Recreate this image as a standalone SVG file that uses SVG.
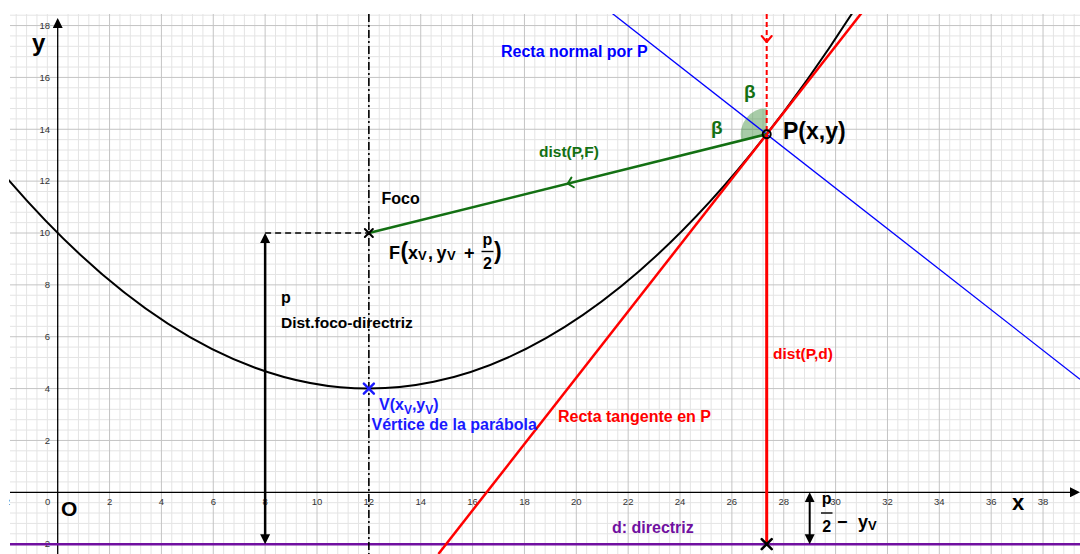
<svg xmlns="http://www.w3.org/2000/svg" width="1080" height="554" viewBox="0 0 1080 554">
<style>
.minor{stroke:#e4e4e4;stroke-width:1;fill:none}
.major{stroke:#c4c4c4;stroke-width:1;fill:none}
.tick{font-family:"Liberation Sans",Arial,sans-serif;font-size:9.5px;fill:#333}
.tx{font-family:"Liberation Sans",Arial,sans-serif;font-size:9.5px;fill:#333;text-anchor:middle}
.lb{font-family:"Liberation Sans",Arial,sans-serif;font-weight:bold}
.chev{fill:none;stroke-width:2;stroke-linecap:round;stroke-linejoin:round}
.xm{fill:none;stroke-linecap:round}
</style>
<defs>
<clipPath id="plot"><rect x="9" y="14" width="1071" height="540"/></clipPath>
<marker id="ahB" viewBox="0 0 10 10" refX="2" refY="5" markerWidth="10" markerHeight="11" markerUnits="userSpaceOnUse" orient="auto-start-reverse"><path d="M0,0 L10,5 L0,10 z" fill="#000"/></marker>
<marker id="ahAx" viewBox="0 0 10 10" refX="0" refY="5" markerWidth="10" markerHeight="10" markerUnits="userSpaceOnUse" orient="auto"><path d="M0,0 L10,5 L0,10 z" fill="#000"/></marker>
</defs>
<rect width="1080" height="554" fill="#fff"/>
<g clip-path="url(#plot)">
<g id="grid">
<path class="minor" d="M16.21 14V554M26.58 14V554M36.96 14V554M47.33 14V554M68.07 14V554M78.44 14V554M88.82 14V554M99.19 14V554M119.93 14V554M130.3 14V554M140.68 14V554M151.05 14V554M171.79 14V554M182.16 14V554M192.54 14V554M202.91 14V554M223.65 14V554M234.02 14V554M244.4 14V554M254.77 14V554M275.51 14V554M285.88 14V554M296.26 14V554M306.63 14V554M327.37 14V554M337.74 14V554M348.12 14V554M358.49 14V554M379.23 14V554M389.6 14V554M399.98 14V554M410.35 14V554M431.09 14V554M441.46 14V554M451.84 14V554M462.21 14V554M482.95 14V554M493.32 14V554M503.7 14V554M514.07 14V554M534.81 14V554M545.18 14V554M555.56 14V554M565.93 14V554M586.67 14V554M597.04 14V554M607.42 14V554M617.79 14V554M638.53 14V554M648.9 14V554M659.28 14V554M669.65 14V554M690.39 14V554M700.76 14V554M711.14 14V554M721.51 14V554M742.25 14V554M752.62 14V554M763 14V554M773.37 14V554M794.11 14V554M804.48 14V554M814.86 14V554M825.23 14V554M845.97 14V554M856.34 14V554M866.72 14V554M877.09 14V554M897.83 14V554M908.2 14V554M918.58 14V554M928.95 14V554M949.69 14V554M960.06 14V554M970.44 14V554M980.81 14V554M1001.55 14V554M1011.92 14V554M1022.3 14V554M1032.67 14V554M1053.41 14V554M1063.78 14V554M1074.16 14V554
M10 533.79H1080M10 523.42H1080M10 513.04H1080M10 502.67H1080M10 481.93H1080M10 471.56H1080M10 461.18H1080M10 450.81H1080M10 430.07H1080M10 419.7H1080M10 409.32H1080M10 398.95H1080M10 378.21H1080M10 367.84H1080M10 357.46H1080M10 347.09H1080M10 326.35H1080M10 315.98H1080M10 305.6H1080M10 295.23H1080M10 274.49H1080M10 264.12H1080M10 253.74H1080M10 243.37H1080M10 222.63H1080M10 212.26H1080M10 201.88H1080M10 191.51H1080M10 170.77H1080M10 160.4H1080M10 150.02H1080M10 139.65H1080M10 118.91H1080M10 108.54H1080M10 98.16H1080M10 87.79H1080M10 67.05H1080M10 56.68H1080M10 46.3H1080M10 35.93H1080M10 15.19H1080"/>
<path class="major" d="M109.56 14V554M161.42 14V554M213.28 14V554M265.14 14V554M317 14V554M368.86 14V554M420.72 14V554M472.58 14V554M524.44 14V554M576.3 14V554M628.16 14V554M680.02 14V554M731.88 14V554M783.74 14V554M835.6 14V554M887.46 14V554M939.32 14V554M991.18 14V554M1043.04 14V554
M10 440.44H1080M10 388.58H1080M10 336.72H1080M10 284.86H1080M10 233H1080M10 181.14H1080M10 129.28H1080M10 77.42H1080M10 25.56H1080"/>
</g>
<g id="ticks">
<text class="tx" x="5.84" y="505">-2</text>
<text class="tx" x="47.7" y="505">0</text>
<text class="tx" x="109.56" y="505">2</text>
<text class="tx" x="161.42" y="505">4</text>
<text class="tx" x="213.28" y="505">6</text>
<text class="tx" x="265.14" y="505">8</text>
<text class="tx" x="317" y="505">10</text>
<text class="tx" x="368.86" y="505">12</text>
<text class="tx" x="420.72" y="505">14</text>
<text class="tx" x="472.58" y="505">16</text>
<text class="tx" x="524.44" y="505">18</text>
<text class="tx" x="576.3" y="505">20</text>
<text class="tx" x="628.16" y="505">22</text>
<text class="tx" x="680.02" y="505">24</text>
<text class="tx" x="731.88" y="505">26</text>
<text class="tx" x="783.74" y="505">28</text>
<text class="tx" x="835.6" y="505">30</text>
<text class="tx" x="887.46" y="505">32</text>
<text class="tx" x="939.32" y="505">34</text>
<text class="tx" x="991.18" y="505">36</text>
<text class="tx" x="1043.04" y="505">38</text>
<g text-anchor="end">
<text class="tick" x="50" y="28.8">18</text>
<text class="tick" x="50" y="80.6">16</text>
<text class="tick" x="50" y="132.5">14</text>
<text class="tick" x="50" y="184.3">12</text>
<text class="tick" x="50" y="236.2">10</text>
<text class="tick" x="50" y="288.1">8</text>
<text class="tick" x="50" y="339.9">6</text>
<text class="tick" x="50" y="391.8">4</text>
<text class="tick" x="50" y="443.6">2</text>
<text class="tick" x="50" y="547.4">-2</text>
</g>
</g>
<g id="axes" stroke="#000" stroke-width="1.3" fill="none">
<line x1="10" y1="492.3" x2="1070" y2="492.3" marker-end="url(#ahAx)"/>
<line x1="57.7" y1="554" x2="57.7" y2="28" marker-end="url(#ahAx)"/>
</g>
<g id="connectors">
<path id="parabola" d="M5.84,176.82 Q433.69,675.97 861.53,-1.45" fill="none" stroke="#000" stroke-width="2"/>
<line id="directriz" x1="10" y1="544.16" x2="1080" y2="544.16" stroke="#7010a0" stroke-width="2.5"/>
<line id="eje" x1="368.86" y1="14" x2="368.86" y2="554" stroke="#000" stroke-width="1.6" stroke-dasharray="8,3,2,3"/>
<line id="aux-foco" x1="265.14" y1="233" x2="368.86" y2="233" stroke="#000" stroke-width="1.6" stroke-dasharray="6,4"/>
<line id="arrow-p" x1="265.14" y1="241" x2="265.14" y2="536.2" stroke="#000" stroke-width="2.5" marker-start="url(#ahB)" marker-end="url(#ahB)"/>
<line id="arrow-p2" x1="809.7" y1="500.3" x2="809.7" y2="536.2" stroke="#000" stroke-width="2" marker-start="url(#ahB)" marker-end="url(#ahB)"/>
<path id="sector-beta" d="M766.7,134.23 L766.7,108.23 A26,26 0 0 0 741.46,140.5 Z" fill="#1b7a1b" fill-opacity="0.38"/>
<line id="normal" x1="607.86" y1="10" x2="1080" y2="379.27" stroke="#0000ff" stroke-width="1.3"/>
<line id="tangente" x1="438.4" y1="554" x2="863.9" y2="10" stroke="#ff0000" stroke-width="2.5"/>
<line id="rayo" x1="766.7" y1="14" x2="766.7" y2="134.23" stroke="#ff0000" stroke-width="2" stroke-dasharray="5,3"/>
<path class="chev" stroke="#ff0000" d="M761.7,36 L766.7,42 L771.7,36"/>
<line id="dist-PF" x1="766.7" y1="134.23" x2="368.86" y2="233" stroke="#137013" stroke-width="2.5"/>
<path class="chev" stroke="#137013" d="M571.45,177.55 L567.8,183.6 L573.85,187.25"/>
<line id="dist-Pd" x1="766.7" y1="134.23" x2="766.7" y2="544.16" stroke="#ff0000" stroke-width="3"/>
</g>
</g>
<g id="node-F">
<path class="xm" stroke="#000" stroke-width="2" d="M364.86,229 L372.86,237 M364.86,237 L372.86,229"/>
<text class="lb" x="381.5" y="204" font-size="16" fill="#000">Foco</text>
<text class="lb" fill="#000" font-size="18" y="258.5"><tspan x="389">F</tspan><tspan x="400.5" font-size="23">(</tspan><tspan x="408">x</tspan><tspan x="418" font-size="13" dy="1.5">V</tspan><tspan x="428" dy="-1.5">,</tspan><tspan x="436.5">y</tspan><tspan x="447" font-size="13" dy="1.5">V</tspan><tspan x="464" dy="-1.5">+</tspan><tspan x="494" font-size="23">)</tspan></text>
<text class="lb" fill="#000" font-size="16" text-anchor="middle" x="487.5" y="244.5">p</text>
<line x1="481.5" y1="251.5" x2="493.5" y2="251.5" stroke="#000" stroke-width="1.4"/>
<text class="lb" fill="#000" font-size="16" text-anchor="middle" x="487.5" y="269">2</text>
</g>
<g id="node-V">
<path class="xm" stroke="#1a1aff" stroke-width="2.5" d="M363.86,383.58 L373.86,393.58 M363.86,393.58 L373.86,383.58"/>
<text class="lb" fill="#1a1aff" font-size="16" y="410"><tspan x="379">V(x</tspan><tspan font-size="12" dy="4">V</tspan><tspan dy="-4">,y</tspan><tspan font-size="12" dy="4">V</tspan><tspan dy="-4">)</tspan></text>
<text class="lb" fill="#1a1aff" font-size="16" x="371.5" y="429.5">Vértice de la parábola</text>
</g>
<g id="node-P">
<circle cx="766.7" cy="134.23" r="4" fill="none" stroke="#000" stroke-width="2"/>
<text class="lb" fill="#000" font-size="23" x="783" y="138.5">P(x,y)</text>
<text class="lb" fill="#137013" font-size="19" x="744" y="98">β</text>
<text class="lb" fill="#137013" font-size="19" x="711" y="134">β</text>
</g>
<g id="node-d">
<path class="xm" stroke="#000" stroke-width="2.5" d="M761.7,539.16 L771.7,549.16 M761.7,549.16 L771.7,539.16"/>
<text class="lb" fill="#7010a0" font-size="16" x="612" y="533">d: directriz</text>
<text class="lb" fill="#000" font-size="16" text-anchor="middle" x="826.7" y="504">p</text>
<line x1="821" y1="513" x2="832.5" y2="513" stroke="#000" stroke-width="1.4"/>
<text class="lb" fill="#000" font-size="16" text-anchor="middle" x="826.7" y="531.5">2</text>
<text class="lb" fill="#000" font-size="18" y="528.3"><tspan x="837">−</tspan><tspan x="858">y</tspan><tspan font-size="13" dy="1.5">V</tspan></text>
</g>
<g id="labels">
<text class="lb" fill="#000" font-size="24" x="32" y="51">y</text>
<text class="lb" fill="#000" font-size="22" x="1012" y="510">x</text>
<text class="lb" fill="#000" font-size="21" x="61" y="516">O</text>
<text class="lb" fill="#0000ff" font-size="16" x="501" y="57">Recta normal por P</text>
<text class="lb" fill="#137013" font-size="15.5" x="539" y="157">dist(P,F)</text>
<text class="lb" fill="#000" font-size="16" x="281" y="302.5">p</text>
<text class="lb" fill="#000" font-size="15.5" x="281" y="327.5">Dist.foco-directriz</text>
<text class="lb" fill="#ff0000" font-size="16" x="558" y="422">Recta tangente en P</text>
<text class="lb" fill="#ff0000" font-size="15.5" x="773" y="359">dist(P,d)</text>
</g>
</svg>
